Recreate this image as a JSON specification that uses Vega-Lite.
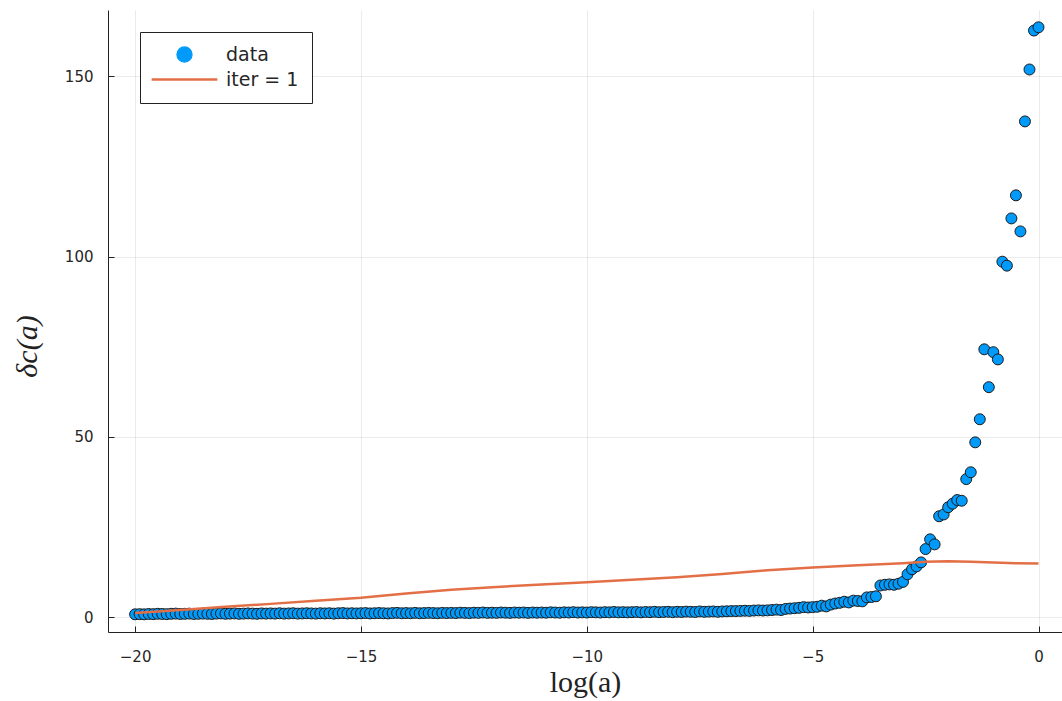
{
  "$schema": "https://vega.github.io/schema/vega-lite/v6.json",
  "width": 954,
  "height": 622,
  "autosize": {"type": "none"},
  "padding": {"left": 108, "top": 10, "right": 0, "bottom": 69},
  "background": "white",
  "config": {
    "view": {"stroke": null},
    "axis": {
      "domainColor": "#222222",
      "domainWidth": 1,
      "tickColor": "#222222",
      "tickWidth": 1,
      "tickSize": -6,
      "labelFont": "DejaVu Sans",
      "labelFontSize": 15,
      "labelColor": "#262626",
      "gridColor": "#000000",
      "gridOpacity": 0.08,
      "gridWidth": 1,
      "titleFont": "Liberation Serif",
      "titleFontSize": 30,
      "titleFontWeight": "normal",
      "titleColor": "#222222"
    },
    "legend": {
      "title": null,
      "orient": "none",
      "legendX": 32,
      "legendY": 22,
      "direction": "vertical",
      "strokeColor": "#222222",
      "fillColor": "white",
      "padding": 13,
      "rowPadding": 5,
      "symbolSize": 120,
      "symbolOffset": 22,
      "labelOffset": 32,
      "labelFont": "DejaVu Sans",
      "labelFontSize": 19,
      "labelColor": "#262626"
    }
  },
  "datasets": {
    "pts": [
      {"x": -20.0, "y": 0.8}, {"x": -19.9, "y": 0.85}, {"x": -19.8, "y": 0.8}, {"x": -19.7, "y": 0.9}, {"x": -19.6, "y": 0.85}, {"x": -19.5, "y": 0.95}, {"x": -19.4, "y": 0.9}, {"x": -19.3, "y": 0.85}, {"x": -19.2, "y": 0.95}, {"x": -19.1, "y": 1.0},
      {"x": -19.0, "y": 0.9}, {"x": -18.9, "y": 0.95}, {"x": -18.8, "y": 1.0}, {"x": -18.7, "y": 0.9}, {"x": -18.6, "y": 0.95}, {"x": -18.5, "y": 1.0}, {"x": -18.4, "y": 0.95}, {"x": -18.3, "y": 0.9}, {"x": -18.2, "y": 1.0}, {"x": -18.1, "y": 1.05},
      {"x": -18.0, "y": 0.95}, {"x": -17.9, "y": 1.0}, {"x": -17.8, "y": 1.05}, {"x": -17.7, "y": 0.95}, {"x": -17.6, "y": 1.0}, {"x": -17.5, "y": 1.05}, {"x": -17.4, "y": 1.0}, {"x": -17.3, "y": 0.95}, {"x": -17.2, "y": 1.05}, {"x": -17.1, "y": 1.0},
      {"x": -17.0, "y": 1.05}, {"x": -16.9, "y": 1.0}, {"x": -16.8, "y": 1.1}, {"x": -16.7, "y": 1.0}, {"x": -16.6, "y": 1.05}, {"x": -16.5, "y": 1.1}, {"x": -16.4, "y": 1.0}, {"x": -16.3, "y": 1.05}, {"x": -16.2, "y": 1.1}, {"x": -16.1, "y": 1.05},
      {"x": -16.0, "y": 1.0}, {"x": -15.9, "y": 1.1}, {"x": -15.8, "y": 1.05}, {"x": -15.7, "y": 1.1}, {"x": -15.6, "y": 1.0}, {"x": -15.5, "y": 1.1}, {"x": -15.4, "y": 1.15}, {"x": -15.3, "y": 1.05}, {"x": -15.2, "y": 1.1}, {"x": -15.1, "y": 1.05},
      {"x": -15.0, "y": 1.1}, {"x": -14.9, "y": 1.15}, {"x": -14.8, "y": 1.05}, {"x": -14.7, "y": 1.1}, {"x": -14.6, "y": 1.15}, {"x": -14.5, "y": 1.1}, {"x": -14.4, "y": 1.05}, {"x": -14.3, "y": 1.15}, {"x": -14.2, "y": 1.2}, {"x": -14.1, "y": 1.1},
      {"x": -14.0, "y": 1.15}, {"x": -13.9, "y": 1.1}, {"x": -13.8, "y": 1.2}, {"x": -13.7, "y": 1.1}, {"x": -13.6, "y": 1.15}, {"x": -13.5, "y": 1.2}, {"x": -13.4, "y": 1.15}, {"x": -13.3, "y": 1.1}, {"x": -13.2, "y": 1.2}, {"x": -13.1, "y": 1.15},
      {"x": -13.0, "y": 1.2}, {"x": -12.9, "y": 1.15}, {"x": -12.8, "y": 1.25}, {"x": -12.7, "y": 1.2}, {"x": -12.6, "y": 1.15}, {"x": -12.5, "y": 1.25}, {"x": -12.4, "y": 1.2}, {"x": -12.3, "y": 1.3}, {"x": -12.2, "y": 1.2}, {"x": -12.1, "y": 1.25},
      {"x": -12.0, "y": 1.2}, {"x": -11.9, "y": 1.3}, {"x": -11.8, "y": 1.25}, {"x": -11.7, "y": 1.2}, {"x": -11.6, "y": 1.3}, {"x": -11.5, "y": 1.25}, {"x": -11.4, "y": 1.3}, {"x": -11.3, "y": 1.2}, {"x": -11.2, "y": 1.3}, {"x": -11.1, "y": 1.25},
      {"x": -11.0, "y": 1.3}, {"x": -10.9, "y": 1.25}, {"x": -10.8, "y": 1.35}, {"x": -10.7, "y": 1.3}, {"x": -10.6, "y": 1.25}, {"x": -10.5, "y": 1.35}, {"x": -10.4, "y": 1.3}, {"x": -10.3, "y": 1.4}, {"x": -10.2, "y": 1.3}, {"x": -10.1, "y": 1.35},
      {"x": -10.0, "y": 1.3}, {"x": -9.9, "y": 1.4}, {"x": -9.8, "y": 1.35}, {"x": -9.7, "y": 1.3}, {"x": -9.6, "y": 1.4}, {"x": -9.5, "y": 1.35}, {"x": -9.4, "y": 1.45}, {"x": -9.3, "y": 1.35}, {"x": -9.2, "y": 1.4}, {"x": -9.1, "y": 1.35},
      {"x": -9.0, "y": 1.4}, {"x": -8.9, "y": 1.45}, {"x": -8.8, "y": 1.35}, {"x": -8.7, "y": 1.45}, {"x": -8.6, "y": 1.4}, {"x": -8.5, "y": 1.5}, {"x": -8.4, "y": 1.4}, {"x": -8.3, "y": 1.45}, {"x": -8.2, "y": 1.5}, {"x": -8.1, "y": 1.4},
      {"x": -8.0, "y": 1.5}, {"x": -7.9, "y": 1.45}, {"x": -7.8, "y": 1.55}, {"x": -7.7, "y": 1.5}, {"x": -7.6, "y": 1.45}, {"x": -7.5, "y": 1.6}, {"x": -7.4, "y": 1.5}, {"x": -7.3, "y": 1.55}, {"x": -7.2, "y": 1.6}, {"x": -7.1, "y": 1.5},
      {"x": -7.0, "y": 1.6}, {"x": -6.9, "y": 1.65}, {"x": -6.8, "y": 1.7}, {"x": -6.7, "y": 1.7}, {"x": -6.6, "y": 1.75}, {"x": -6.5, "y": 1.8}, {"x": -6.4, "y": 1.75}, {"x": -6.3, "y": 1.85}, {"x": -6.2, "y": 1.9}, {"x": -6.1, "y": 1.85},
      {"x": -6.0, "y": 1.9}, {"x": -5.9, "y": 2.0}, {"x": -5.8, "y": 2.1}, {"x": -5.7, "y": 2.0}, {"x": -5.6, "y": 2.3}, {"x": -5.5, "y": 2.4}, {"x": -5.4, "y": 2.5}, {"x": -5.3, "y": 2.6}, {"x": -5.2, "y": 2.8}, {"x": -5.1, "y": 2.7},
      {"x": -5.0, "y": 2.8}, {"x": -4.9, "y": 2.9}, {"x": -4.8, "y": 3.2}, {"x": -4.7, "y": 3.0}, {"x": -4.6, "y": 3.5}, {"x": -4.5, "y": 3.8}, {"x": -4.4, "y": 4.0}, {"x": -4.3, "y": 4.3}, {"x": -4.2, "y": 4.1}, {"x": -4.1, "y": 4.6},
      {"x": -4.0, "y": 4.5}, {"x": -3.9, "y": 4.4}, {"x": -3.8, "y": 5.5}, {"x": -3.7, "y": 5.6}, {"x": -3.6, "y": 5.8}, {"x": -3.5, "y": 8.8}, {"x": -3.4, "y": 9.0}, {"x": -3.3, "y": 9.1}, {"x": -3.2, "y": 9.0}, {"x": -3.1, "y": 9.3},
      {"x": -3.0, "y": 9.8}, {"x": -2.9, "y": 11.9}, {"x": -2.8, "y": 13.3}, {"x": -2.7, "y": 14.1}, {"x": -2.6, "y": 15.2}, {"x": -2.5, "y": 18.9}, {"x": -2.4, "y": 21.6}, {"x": -2.3, "y": 20.2}, {"x": -2.2, "y": 28.0}, {"x": -2.1, "y": 28.5},
      {"x": -2.0, "y": 30.5}, {"x": -1.9, "y": 31.5}, {"x": -1.8, "y": 32.5}, {"x": -1.7, "y": 32.3}, {"x": -1.6, "y": 38.3}, {"x": -1.5, "y": 40.2}, {"x": -1.4, "y": 48.5}, {"x": -1.3, "y": 54.9}, {"x": -1.2, "y": 74.3}, {"x": -1.1, "y": 63.8},
      {"x": -1.0, "y": 73.5}, {"x": -0.9, "y": 71.5}, {"x": -0.8, "y": 98.6}, {"x": -0.7, "y": 97.5}, {"x": -0.6, "y": 110.6}, {"x": -0.5, "y": 117.0}, {"x": -0.4, "y": 107.0}, {"x": -0.3, "y": 137.5}, {"x": -0.2, "y": 151.9}, {"x": -0.1, "y": 162.7},
      {"x": 0.0, "y": 163.6}
    ],
    "fit": [
      {"x": -20, "y": 1.2}, {"x": -19, "y": 2.0}, {"x": -18, "y": 2.9}, {"x": -17, "y": 3.7}, {"x": -16, "y": 4.6}, {"x": -15, "y": 5.4},
      {"x": -14, "y": 6.6}, {"x": -13, "y": 7.6}, {"x": -12, "y": 8.4}, {"x": -11, "y": 9.1}, {"x": -10, "y": 9.7}, {"x": -9, "y": 10.4},
      {"x": -8, "y": 11.1}, {"x": -7, "y": 12.0}, {"x": -6, "y": 13.0}, {"x": -5, "y": 13.8}, {"x": -4, "y": 14.4}, {"x": -3, "y": 15.0},
      {"x": -2.5, "y": 15.4}, {"x": -2, "y": 15.5}, {"x": -1.5, "y": 15.4}, {"x": -1, "y": 15.2}, {"x": -0.5, "y": 15.0}, {"x": 0, "y": 14.9}
    ]
  },
  "layer": [
    {
      "data": {"name": "pts"},
      "mark": {"type": "point", "filled": true, "shape": "circle", "size": 120, "stroke": "#1a1a1a", "strokeWidth": 1, "opacity": 1},
      "encoding": {
        "x": {
          "field": "x", "type": "quantitative",
          "scale": {"domain": [-20.6, 0.52], "nice": false, "zero": false},
          "axis": {"values": [-20, -15, -10, -5, 0], "title": "log(a)", "labelPadding": 23, "titlePadding": 3}
        },
        "y": {
          "field": "y", "type": "quantitative",
          "scale": {"domain": [-4.1, 168.4], "nice": false, "zero": false},
          "axis": {"values": [0, 50, 100, 150], "title": "δc(a)", "titleFontStyle": "italic", "labelPadding": 21, "titlePadding": 22, "titleY": 336}
        },
        "color": {
          "datum": "data",
          "scale": {"domain": ["data", "iter = 1"], "range": ["#009AFA", "#E36F47"]},
          "legend": {
            "encode": {
              "symbols": {
                "update": {
                  "shape": {"signal": "datum.value === 'data' ? 'circle' : 'M-6,0H6'"},
                  "size": {"signal": "datum.value === 'data' ? 230 : 120"},
                  "fill": {"signal": "datum.value === 'data' ? '#009AFA' : 'transparent'"},
                  "stroke": {"signal": "datum.value === 'data' ? '#1a1a1a' : '#E36F47'"},
                  "strokeWidth": {"signal": "datum.value === 'data' ? 1.2 : 2.5"},
                  "opacity": {"value": 1}
                }
              }
            }
          }
        }
      }
    },
    {
      "data": {"name": "fit"},
      "mark": {"type": "line", "strokeWidth": 2.5},
      "encoding": {
        "x": {"field": "x", "type": "quantitative"},
        "y": {"field": "y", "type": "quantitative"},
        "color": {
          "datum": "iter = 1",
          "legend": {
            "encode": {
              "symbols": {
                "update": {
                  "shape": {"signal": "datum.value === 'data' ? 'circle' : 'M-6,0H6'"},
                  "size": {"signal": "datum.value === 'data' ? 230 : 120"},
                  "fill": {"signal": "datum.value === 'data' ? '#009AFA' : 'transparent'"},
                  "stroke": {"signal": "datum.value === 'data' ? '#1a1a1a' : '#E36F47'"},
                  "strokeWidth": {"signal": "datum.value === 'data' ? 1.2 : 2.5"},
                  "opacity": {"value": 1}
                }
              }
            }
          }
        }
      }
    }
  ]
}
